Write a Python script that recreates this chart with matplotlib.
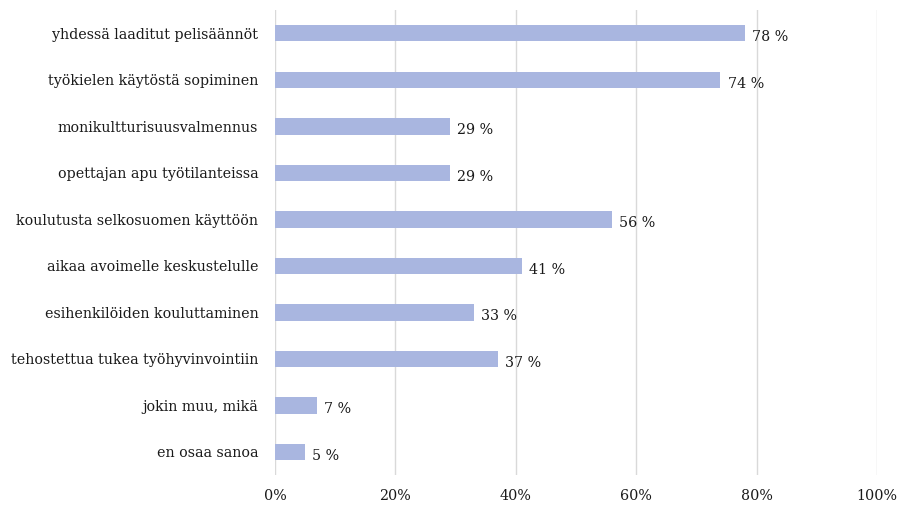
import matplotlib
matplotlib.use("Agg")
import matplotlib.pyplot as plt

categories = [
    "yhdessä laaditut pelisäännöt",
    "työkielen käytöstä sopiminen",
    "monikultturisuusvalmennus",
    "opettajan apu työtilanteissa",
    "koulutusta selkosuomen käyttöön",
    "aikaa avoimelle keskustelulle",
    "esihenkilöiden kouluttaminen",
    "tehostettua tukea työhyvinvointiin",
    "jokin muu, mikä",
    "en osaa sanoa",
]
values = [78, 74, 29, 29, 56, 41, 33, 37, 7, 5]
xticks = [0, 20, 40, 60, 80, 100]
xticklabels = ["0%", "20%", "40%", "60%", "80%", "100%"]

plt.rcParams['font.family'] = ['DejaVu Serif', 'Liberation Serif']

fig = plt.figure(figsize=(9.06, 5.05), dpi=100)
ax = fig.add_axes([0.3035, 0.059, 0.6645, 0.921])

ypos = list(range(len(categories)))
ax.barh(ypos, values, height=0.35, color="#A9B6E0", zorder=3)
for y, v in zip(ypos, values):
    ax.text(v + 1.2, y + 0.08, f"{v} %", va="center", ha="left", fontsize=10.3, color="#1a1a1a")

ax.set_ylim(len(categories) - 0.5, -0.5)
ax.set_xlim(0, 100)
ax.set_yticks(ypos)
ax.set_yticklabels(categories, fontsize=10.3, color="#1a1a1a")
ax.set_xticks(xticks)
ax.set_xticklabels(xticklabels, fontsize=10.3, color="#1a1a1a")
ax.tick_params(axis="both", length=0)
ax.tick_params(axis="y", pad=12)
ax.tick_params(axis="x", pad=10)
ax.grid(axis="x", color="#D9D9D9", linewidth=1, zorder=0)
for s in ax.spines.values():
    s.set_visible(False)

fig.savefig("out.png", dpi=100)
